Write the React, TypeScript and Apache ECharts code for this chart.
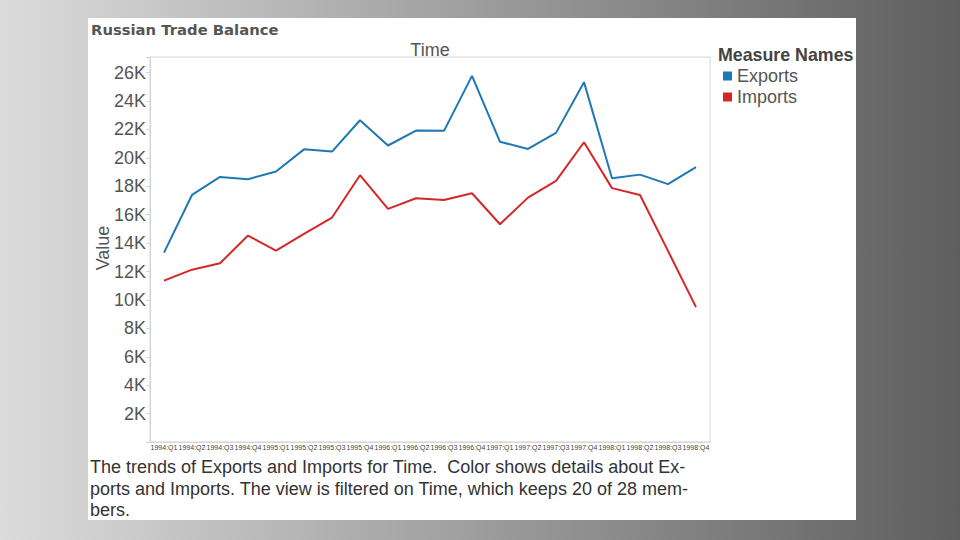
import React, { useEffect, useRef } from "react";
import * as echarts from "echarts";

const quarters = [
  "1994:Q1", "1994:Q2", "1994:Q3", "1994:Q4",
  "1995:Q1", "1995:Q2", "1995:Q3", "1995:Q4",
  "1996:Q1", "1996:Q2", "1996:Q3", "1996:Q4",
  "1997:Q1", "1997:Q2", "1997:Q3", "1997:Q4",
  "1998:Q1", "1998:Q2", "1998:Q3", "1998:Q4",
];

const exportsValues = [
  13330, 17390, 18660, 18500, 19040, 20600, 20440, 22650, 20870, 21920,
  21900, 25770, 21130, 20630, 21760, 25330, 18570, 18820, 18150, 19350,
];

const importsValues = [
  11360, 12130, 12580, 14530, 13470, 14650, 15800, 18780, 16410, 17160,
  17040, 17510, 15330, 17200, 18380, 21100, 17870, 17390, 13450, 9490,
];

const captionLines = [
  "The trends of Exports and Imports for Time.  Color shows details about Ex-",
  "ports and Imports. The view is filtered on Time, which keeps 20 of 28 mem-",
  "bers.",
];

const EXPORT_COLOR = "#1f77b4";
const IMPORT_COLOR = "#d62728";

export default function App() {
  const ref = useRef<HTMLDivElement>(null);

  useEffect(() => {
    if (!ref.current) return;
    const chart = echarts.init(ref.current, undefined, { renderer: "svg" });
    const font = "'Liberation Sans', Arial, sans-serif";
    chart.setOption({
      animation: false,
      backgroundColor: {
        type: "linear",
        x: 0, y: 0, x2: 1, y2: 0,
        colorStops: [
          { offset: 0, color: "#dcdcdc" },
          { offset: 1, color: "#5e5e5e" },
        ],
      },
      graphic: [
        {
          type: "rect",
          z: -10,
          shape: { x: 88, y: 18, width: 768, height: 502 },
          style: { fill: "#ffffff" },
        },
        {
          type: "text",
          x: 91,
          y: 22,
          style: {
            text: "Russian Trade Balance",
            font: "bold 14.8px 'DejaVu Sans', sans-serif",
            fill: "#555555",
          },
        },
        {
          type: "text",
          x: 430,
          y: 41,
          style: {
            text: "Time",
            font: `18px ${font}`,
            fill: "#555555",
            textAlign: "center",
          },
        },
        {
          type: "text",
          x: 103,
          y: 248,
          rotation: Math.PI / 2,
          style: {
            text: "Value",
            font: `18px ${font}`,
            fill: "#555555",
            textAlign: "center",
            textVerticalAlign: "middle",
          },
        },
        {
          type: "text",
          x: 718,
          y: 46,
          style: {
            text: "Measure Names",
            font: `bold 17.8px ${font}`,
            fill: "#444444",
          },
        },
        ...captionLines.map((line, i) => ({
          type: "text",
          x: 90,
          y: 458 + i * 21.5,
          style: {
            text: line,
            font: `18px ${font}`,
            fill: "#333333",
          },
        })),
      ],
      legend: {
        left: 718,
        top: 62,
        orient: "vertical",
        itemGap: 3,
        itemWidth: 9,
        itemHeight: 9,
        icon: "rect",
        textStyle: { fontSize: 18, color: "#555555", fontFamily: font, padding: [0, 0, 0, 0] },
        data: ["Exports", "Imports"],
      },
      grid: {
        left: 150,
        right: 250,
        top: 57,
        bottom: 98,
        show: true,
        borderColor: "#d4d4d4",
        borderWidth: 1,
      },
      xAxis: {
        type: "category",
        data: quarters,
        boundaryGap: true,
        axisLine: { lineStyle: { color: "#d4d4d4" } },
        axisTick: { show: false },
        axisLabel: {
          interval: 0,
          fontSize: 7,
          color: "#444444",
          fontFamily: font,
          margin: 2,
        },
      },
      yAxis: {
        type: "value",
        min: 0,
        max: 27100,
        interval: 2000,
        axisLine: { show: true, lineStyle: { color: "#d4d4d4" } },
        axisTick: { show: true, length: 4, lineStyle: { color: "#d4d4d4" } },
        splitLine: { show: false },
        axisLabel: {
          fontSize: 18,
          color: "#555555",
          fontFamily: font,
          margin: 4,
          formatter: (v: number) =>
            v === 0 || v % 2000 !== 0 ? "" : `${v / 1000}K`,
        },
      },
      series: [
        {
          name: "Exports",
          type: "line",
          data: exportsValues,
          symbol: "none",
          color: EXPORT_COLOR,
          lineStyle: { width: 2, color: EXPORT_COLOR },
        },
        {
          name: "Imports",
          type: "line",
          data: importsValues,
          symbol: "none",
          color: IMPORT_COLOR,
          lineStyle: { width: 2, color: IMPORT_COLOR },
        },
      ],
    });
    return () => chart.dispose();
  }, []);

  return (
    <div
      ref={ref}
      style={{ position: "fixed", left: 0, top: 0, width: 960, height: 540 }}
    />
  );
}
